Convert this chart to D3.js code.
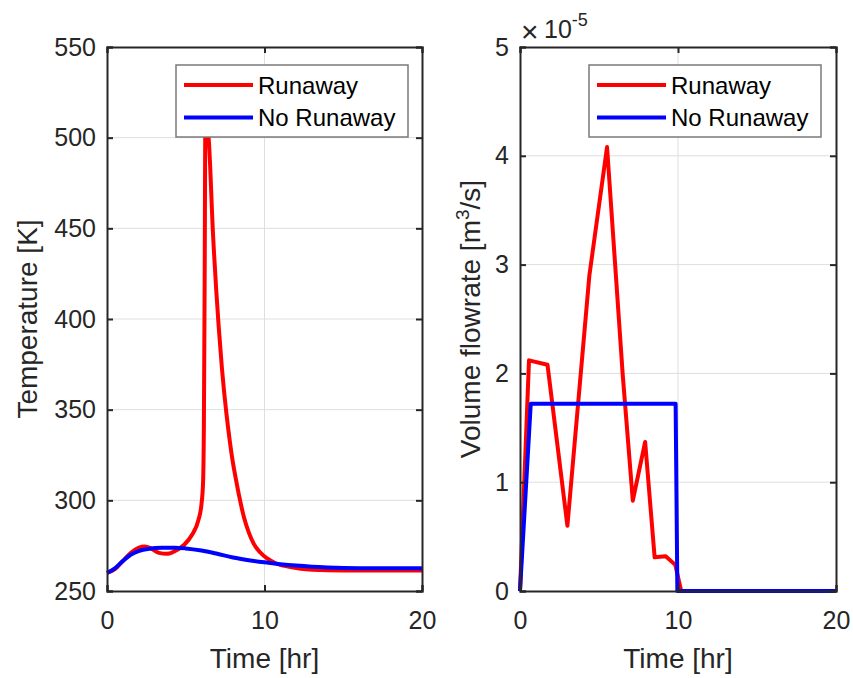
<!DOCTYPE html>
<html>
<head>
<meta charset="utf-8">
<script src="https://cdn.jsdelivr.net/npm/d3@7"></script>
<style>
  body { margin: 0; background: #fff; }
  svg { font-family: Arial, "Liberation Sans", Helvetica, sans-serif; }
</style>
</head>
<body>
<div id="chart"></div>
<script>
// Temperature [K] vs time [hr]
const tempRunawayT = [0, 0.5, 1.0, 1.5, 2.0, 2.4, 2.8, 3.3, 3.8, 4.3, 4.9, 5.4, 5.8, 6.0, 6.1, 6.15, 6.2, 6.25, 6.35, 6.45, 6.73, 7.09, 7.3, 7.58, 7.8, 8.0, 8.2, 8.4, 8.7, 9.0, 9.32, 9.7, 10.2, 10.7, 11.2, 12.3, 14, 16, 20]
const tempRunawayV = [260, 262, 266.5, 271, 273.8, 274.5, 273.5, 271, 270.5, 272, 275.5, 281, 289, 298, 310, 340, 420, 512, 506, 500, 447, 396, 372.5, 348, 332.5, 320.5, 311, 302, 290.5, 282.3, 276, 271.5, 267.8, 265.3, 264, 262.3, 261.5, 261.3, 261.3]
const tempNoRunawayT = [0, 0.5, 1.0, 1.5, 2.0, 2.7, 3.5, 4.3, 5.0, 6.0, 7.0, 8.0, 9.0, 10.0, 11.0, 12.0, 13.0, 14, 16, 20]
const tempNoRunawayV = [260, 262.5, 266.5, 270, 272, 273.3, 273.8, 273.9, 273.5, 272.3, 270.5, 268.5, 267, 265.8, 264.8, 264, 263.4, 263, 262.6, 262.5]

// Volume flowrate [x1e-5 m^3/s] vs time [hr]
const flowRunawayT = [0, 0.57, 1.74, 3.0, 4.39, 5.51, 6.5, 7.14, 7.92, 8.52, 9.22, 9.83, 10.2, 20]
const flowRunawayV = [0, 2.12, 2.08, 0.6, 2.9, 4.08, 1.99, 0.83, 1.37, 0.31, 0.32, 0.24, 0, 0]
const flowNoRunawayT = [0, 0.68, 9.85, 9.96, 20]
const flowNoRunawayV = [0, 1.72, 1.72, 0, 0]

const xTicks = [0, 10, 20]
const tempTicks = [250, 300, 350, 400, 450, 500, 550]
const flowTicks = [0, 1, 2, 3, 4, 5]
const seriesNames = ['Runaway', 'No Runaway']
const seriesColors = ['#ff0000', '#0000ff']

const width = 853
const height = 678
const ink = '#262626'
const gridColor = '#dedede'
const lineW = 4

const svg = d3.select('#chart')
  .append('svg')
  .attr('width', width)
  .attr('height', height)

const zip = (ts, vs) => ts.map((t, i) => ({ t, v: vs[i] }))

function drawPanel(opts) {
  const { left, right, top, bottom, yDomain, yTicks, series, legend, curve } = opts
  const x = d3.scaleLinear().domain([0, 20]).range([left, right])
  const y = d3.scaleLinear().domain(yDomain).range([bottom, top])
  const g = svg.append('g')

  // grid
  g.append('g').selectAll('line')
    .data(xTicks.slice(1, -1))
    .join('line')
    .attr('x1', d => x(d)).attr('x2', d => x(d))
    .attr('y1', top).attr('y2', bottom)
    .attr('stroke', gridColor).attr('stroke-width', 1)
  g.append('g').selectAll('line')
    .data(yTicks.slice(1, -1))
    .join('line')
    .attr('x1', left).attr('x2', right)
    .attr('y1', d => y(d)).attr('y2', d => y(d))
    .attr('stroke', gridColor).attr('stroke-width', 1)

  // clip for lines
  const clipId = 'clip' + left
  svg.append('clipPath').attr('id', clipId)
    .append('rect').attr('x', left - 3).attr('y', top).attr('width', right - left + 6).attr('height', bottom - top + 3)

  const line = d3.line().curve(curve).x(d => x(d.t)).y(d => y(d.v))
  series.forEach((s, i) => {
    g.append('path')
      .datum(s)
      .attr('clip-path', `url(#${clipId})`)
      .attr('fill', 'none')
      .attr('stroke', seriesColors[i])
      .attr('stroke-width', lineW)
      .attr('stroke-linejoin', 'round')
      .attr('d', line)
  })

  // axes (ticks inside, box)
  const tickLen = 6
  const axB = g.append('g').attr('transform', `translate(0,${bottom})`)
    .call(d3.axisBottom(x).tickValues(xTicks).tickSize(-tickLen).tickPadding(20).tickFormat(d3.format('d')))
  const axT = g.append('g').attr('transform', `translate(0,${top})`)
    .call(d3.axisTop(x).tickValues(xTicks).tickSize(-tickLen).tickFormat(''))
  const axL = g.append('g').attr('transform', `translate(${left},0)`)
    .call(d3.axisLeft(y).tickValues(yTicks).tickSize(-tickLen).tickPadding(11).tickFormat(d3.format('d')))
  const axR = g.append('g').attr('transform', `translate(${right},0)`)
    .call(d3.axisRight(y).tickValues(yTicks).tickSize(-tickLen).tickFormat(''))
  ;[axB, axT, axL, axR].forEach(a => {
    a.attr('font-family', null).attr('font-size', null)
    a.select('.domain').attr('stroke', ink).attr('stroke-width', 2)
    a.selectAll('.tick line').attr('stroke', ink).attr('stroke-width', 2)
    a.selectAll('.tick text').attr('fill', ink).style('font-size', '25px')
  })

  // legend
  const lg = g.append('g')
  lg.append('rect')
    .attr('x', legend.x).attr('y', 65)
    .attr('width', 232).attr('height', 72)
    .attr('fill', '#fff').attr('stroke', '#7a7a7a').attr('stroke-width', 1.5)
  seriesNames.forEach((name, i) => {
    const yy = 85 + i * 32.5
    lg.append('line')
      .attr('x1', legend.x + 8).attr('x2', legend.x + 77)
      .attr('y1', yy).attr('y2', yy)
      .attr('stroke', seriesColors[i]).attr('stroke-width', lineW)
    lg.append('text')
      .attr('x', legend.x + 82).attr('y', yy + 8.5)
      .attr('fill', '#000')
      .style('font-size', '24px')
      .text(name)
  })

  // x label
  g.append('text')
    .attr('x', (left + right) / 2).attr('y', 668)
    .attr('text-anchor', 'middle')
    .attr('fill', ink)
    .style('font-size', '28px')
    .text('Time [hr]')

  return { x, y, g }
}

const p1 = drawPanel({
  left: 107, right: 422, top: 47, bottom: 591,
  yDomain: [250, 550], yTicks: tempTicks,
  series: [zip(tempRunawayT, tempRunawayV), zip(tempNoRunawayT, tempNoRunawayV)],
  legend: { x: 176 },
  curve: d3.curveMonotoneX
})
p1.g.append('text')
  .attr('transform', 'translate(37,319) rotate(-90)')
  .attr('text-anchor', 'middle')
  .attr('fill', ink)
  .style('font-size', '28px')
  .text('Temperature [K]')

const p2 = drawPanel({
  left: 520, right: 836, top: 47, bottom: 591,
  yDomain: [0, 5], yTicks: flowTicks,
  series: [zip(flowRunawayT, flowRunawayV), zip(flowNoRunawayT, flowNoRunawayV)],
  legend: { x: 589 },
  curve: d3.curveLinear
})
const yl = p2.g.append('text')
  .attr('transform', 'translate(480,319) rotate(-90)')
  .attr('text-anchor', 'middle')
  .attr('fill', ink)
  .style('font-size', '28px')
yl.append('tspan').text('Volume flowrate [m')
yl.append('tspan').attr('dy', -11).style('font-size', '19px').text('3')
yl.append('tspan').attr('dy', 11).text('/s]')

// exponent label (x10^-5)
p2.g.append('text')
  .attr('x', 521).attr('y', 42)
  .attr('fill', ink)
  .style('font-size', '30px')
  .style('font-weight', 300)
  .text('\u00d7')
const ex = p2.g.append('text')
  .attr('x', 544).attr('y', 38)
  .attr('fill', ink)
  .style('font-size', '25px')
ex.append('tspan').text('10')
ex.append('tspan').attr('dy', -12).style('font-size', '18px').text('-5')
</script>
</body>
</html>
